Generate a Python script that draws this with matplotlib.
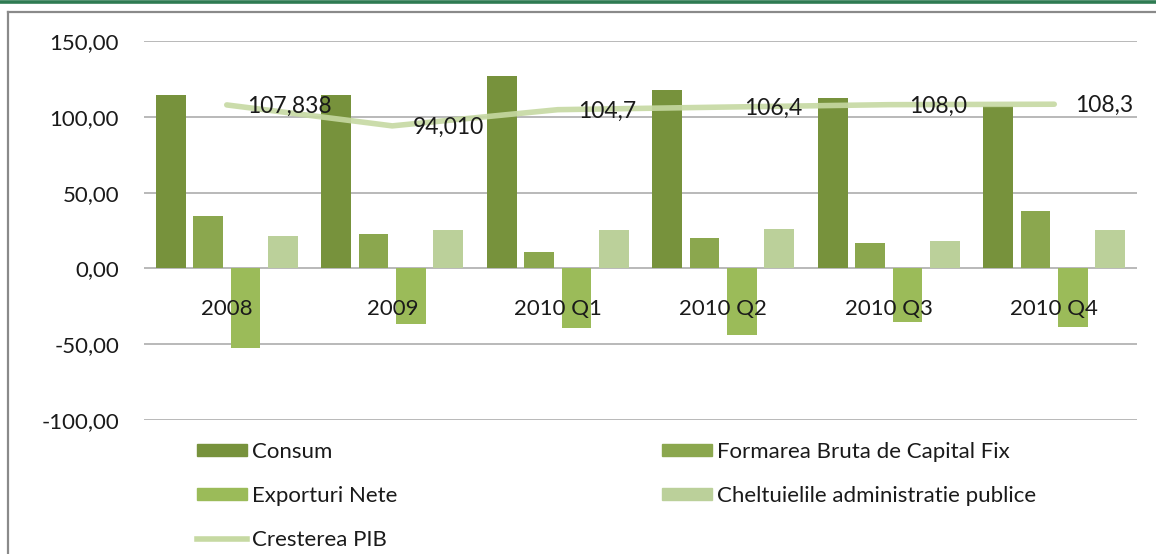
import matplotlib
matplotlib.use("Agg")
import matplotlib.pyplot as plt
from matplotlib.lines import Line2D
from matplotlib.patches import Patch
import numpy as np

plt.rcParams['font.family'] = ['Lato', 'DejaVu Sans']

categories = ['2008', '2009', '2010 Q1', '2010 Q2', '2010 Q3', '2010 Q4']
consum = [114.2, 114.2, 127.2, 118.0, 112.4, 106.9]
formarea = [34.3, 22.9, 10.8, 20.3, 17.0, 38.1]
exporturi = [-52.8, -37.0, -39.2, -44.2, -35.4, -38.7]
cheltuieli = [21.3, 25.1, 25.1, 25.7, 17.8, 25.1]
pib = [107.838, 94.010, 104.7, 106.4, 108.0, 108.3]
pib_labels = ['107,838', '94,010', '104,7', '106,4', '108,0', '108,3']
yticks = [-100, -50, 0, 50, 100, 150]
ytick_labels = ['-100,00', '-50,00', '0,00', '50,00', '100,00', '150,00']

names = ['Consum', 'Formarea Bruta de Capital Fix', 'Exporturi Nete',
         'Cheltuielile administratie publice', 'Cresterea PIB']
colors = ['#77923C', '#8BA74E', '#9BBB59', '#BBD09A']
line_color = '#C6D9A2'

W, H = 1156, 554
fig = plt.figure(figsize=(W / 100, H / 100), dpi=100)

# decoration: green stripe and grey frame
fig.add_artist(Line2D([0, 1], [1 - 1.8 / H, 1 - 1.8 / H], color='#2E7B52', lw=2.6,
                      transform=fig.transFigure))
fig.add_artist(Line2D([8 / W, 1], [1 - 12 / H, 1 - 12 / H], color='#8A8A8A', lw=1.6,
                      transform=fig.transFigure))
fig.add_artist(Line2D([8 / W, 8 / W], [0, 1 - 12 / H], color='#8A8A8A', lw=1.6,
                      transform=fig.transFigure))

ax = fig.add_axes([144 / W, (H - 420) / H, (1137 - 144) / W, (420 - 41) / H])
x = np.arange(len(categories))
step = 0.226
width = 0.18
series = [consum, formarea, exporturi, cheltuieli]
for k, vals in enumerate(series):
    ax.bar(x + (k - 1.5) * step, vals, width=width, color=colors[k], zorder=2)

ax.plot(x, pib, color=line_color, lw=4, alpha=0.9, zorder=3,
        solid_capstyle='round', solid_joinstyle='round')
for xi, v, lab in zip(x, pib, pib_labels):
    ax.annotate(lab, (xi, v), xytext=(15, -1), textcoords='offset points',
                ha='left', va='center', fontsize=16.5, color='#1a1a1a', zorder=4)

for xi, c in zip(x, categories):
    ax.annotate(c, (xi, 0), xytext=(0, -29.5), textcoords='offset points',
                ha='center', va='center', fontsize=16, color='#1a1a1a', zorder=4)

ax.set_xlim(-0.5, len(categories) - 0.5)
ax.set_ylim(-100, 150)
ax.set_yticks(yticks)
ax.set_yticklabels(ytick_labels, fontsize=16, color='#1a1a1a')
ax.set_xticks([])
ax.tick_params(axis='y', length=0, pad=18)
for s in ax.spines.values():
    s.set_visible(False)
ax.yaxis.grid(True, color='#A6A6A6', lw=1.1, zorder=0)
ax.set_axisbelow(True)

handles = [Patch(color=c) for c in colors] + [Line2D([], [], color=line_color, lw=4)]
leg_kw = dict(frameon=False, fontsize=16, labelcolor='#1a1a1a',
              handlelength=2.25, handleheight=0.45, handletextpad=0.22,
              labelspacing=1.08, borderpad=0, borderaxespad=0,
              loc='upper left', bbox_transform=fig.transFigure)
top = 1 - (453 - 11.1) / H
# two figure legends, one per column
fig.legend([handles[0], handles[2], handles[4]], [names[0], names[2], names[4]],
           bbox_to_anchor=(197 / W, top), **leg_kw)
fig.legend([handles[1], handles[3]], [names[1], names[3]],
           bbox_to_anchor=(662 / W, top), **leg_kw)

fig.savefig('out.png', dpi=100)
